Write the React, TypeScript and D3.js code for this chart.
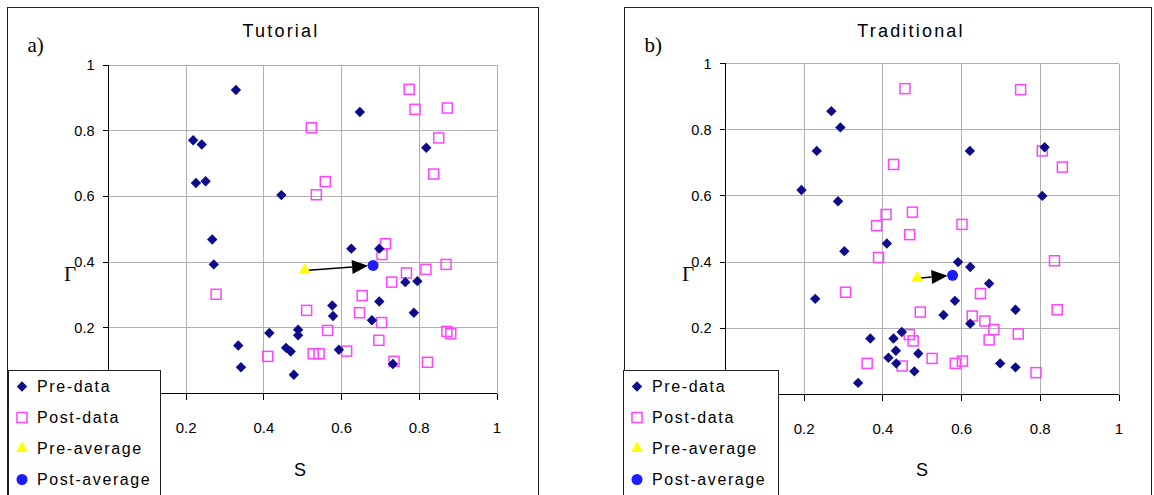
import React from "react";
import * as d3 from "d3";

type Pt = [number, number];

// ---- panel a) Tutorial ----
const tutorialPre: Pt[] = [
  [0.328, 0.924], [0.218, 0.771], [0.240, 0.758], [0.225, 0.641], [0.250, 0.646],
  [0.445, 0.604], [0.647, 0.857], [0.818, 0.748], [0.267, 0.469], [0.271, 0.393],
  [0.625, 0.441], [0.697, 0.441], [0.764, 0.339], [0.795, 0.342], [0.697, 0.280],
  [0.786, 0.246], [0.678, 0.223], [0.414, 0.184], [0.334, 0.146], [0.341, 0.080],
  [0.457, 0.139], [0.469, 0.128], [0.477, 0.057], [0.488, 0.194], [0.488, 0.177],
  [0.576, 0.268], [0.578, 0.236], [0.593, 0.133], [0.732, 0.090],
];
const tutorialPost: Pt[] = [
  [0.522, 0.809], [0.558, 0.645], [0.535, 0.605], [0.774, 0.926], [0.789, 0.865],
  [0.872, 0.869], [0.850, 0.778], [0.837, 0.668], [0.277, 0.302], [0.510, 0.253],
  [0.564, 0.192], [0.410, 0.113], [0.527, 0.121], [0.542, 0.121], [0.613, 0.129],
  [0.713, 0.456], [0.704, 0.423], [0.767, 0.367], [0.817, 0.378], [0.869, 0.393],
  [0.729, 0.339], [0.653, 0.298], [0.646, 0.246], [0.703, 0.216], [0.696, 0.162],
  [0.871, 0.189], [0.881, 0.182], [0.735, 0.098], [0.821, 0.095],
];
const tutorialPreAvg: Pt = [0.505, 0.375];
const tutorialPostAvg: Pt = [0.681, 0.39];

// ---- panel b) Traditional ----
const traditionalPre: Pt[] = [
  [0.269, 0.856], [0.292, 0.807], [0.232, 0.736], [0.193, 0.618], [0.286, 0.584],
  [0.621, 0.736], [0.811, 0.747], [0.805, 0.600], [0.410, 0.456], [0.302, 0.433],
  [0.228, 0.289], [0.591, 0.400], [0.622, 0.385], [0.583, 0.283], [0.554, 0.240],
  [0.368, 0.169], [0.427, 0.169], [0.448, 0.189], [0.433, 0.132], [0.414, 0.111],
  [0.434, 0.094], [0.490, 0.124], [0.480, 0.070], [0.337, 0.035], [0.622, 0.214],
  [0.670, 0.335], [0.737, 0.256], [0.698, 0.094], [0.737, 0.082],
];
const traditionalPost: Pt[] = [
  [0.456, 0.924], [0.427, 0.695], [0.408, 0.544], [0.475, 0.551], [0.384, 0.510],
  [0.601, 0.514], [0.750, 0.921], [0.805, 0.736], [0.856, 0.687], [0.468, 0.483],
  [0.389, 0.414], [0.305, 0.309], [0.495, 0.249], [0.467, 0.181], [0.477, 0.162],
  [0.360, 0.094], [0.449, 0.086], [0.525, 0.109], [0.584, 0.094], [0.602, 0.101],
  [0.836, 0.404], [0.648, 0.305], [0.843, 0.256], [0.627, 0.237], [0.659, 0.222],
  [0.682, 0.196], [0.670, 0.165], [0.744, 0.183], [0.789, 0.066],
];
const traditionalPreAvg: Pt = [0.487, 0.352];
const traditionalPostAvg: Pt = [0.577, 0.36];

const xTicks = [0.2, 0.4, 0.6, 0.8, 1];
const yTicks = [0.2, 0.4, 0.6, 0.8, 1];
const legendLabels = ["Pre-data", "Post-data", "Pre-average", "Post-average"];

const FONT = "Liberation Sans, Arial, sans-serif";
const SERIF = "Liberation Serif, Times New Roman, serif";
const NAVY = "#0b0b8c";
const PINK = "#ff44ff";
const YELLOW = "#ffff00";
const BLUE = "#1c1cff";
const GRID = "#b0b0b0";

const diamondPath = d3.symbol(d3.symbolSquare, 54)()!;
const trianglePath = d3.symbol(d3.symbolTriangle, 62)()!;

function Marker({ kind, x, y }: { kind: number; x: number; y: number }) {
  if (kind === 0)
    return <path d={diamondPath} transform={`translate(${x},${y}) rotate(45)`} fill={NAVY} />;
  if (kind === 1)
    return <rect x={x - 5} y={y - 5} width={10} height={10} fill="none" stroke={PINK} strokeWidth={1.5} />;
  if (kind === 2)
    return <path d={trianglePath} transform={`translate(${x},${y})`} fill={YELLOW} />;
  return <circle cx={x} cy={y} r={5.5} fill={BLUE} />;
}

interface PanelProps {
  frame: [number, number];
  plot: { left: number; right: number; top: number; bottom: number };
  title: string;
  titleX: number;
  tag: string;
  gammaX: number;
  sX: number;
  legendBox: [number, number];
  pre: Pt[];
  post: Pt[];
  preAvg: Pt;
  postAvg: Pt;
}

function Panel(p: PanelProps) {
  const x = d3.scaleLinear().domain([0, 1]).range([p.plot.left, p.plot.right]);
  const y = d3.scaleLinear().domain([0, 1]).range([p.plot.bottom, p.plot.top]);

  // arrow from pre-average to the edge of post-average
  const [ax, ay] = [x(p.preAvg[0]), y(p.preAvg[1])];
  const [bx, by] = [x(p.postAvg[0]), y(p.postAvg[1])];
  const len = Math.hypot(bx - ax, by - ay);
  const ux = (bx - ax) / len;
  const uy = (by - ay) / len;
  const tipX = bx - ux * 5;
  const tipY = by - uy * 5;
  const headL = 16;
  const headW = 7;
  const baseX = tipX - ux * headL;
  const baseY = tipY - uy * headL;
  const head = `M${tipX},${tipY}L${baseX - uy * headW},${baseY + ux * headW}L${baseX + uy * headW},${baseY - ux * headW}Z`;

  const [lx0, lx1] = p.legendBox;

  return (
    <g>
      {/* outer frame */}
      <rect x={p.frame[0]} y={7.5} width={p.frame[1] - p.frame[0]} height={520} fill="white" stroke="#222" strokeWidth={1} />
      <text x={p.titleX} y={37} textAnchor="middle" fontFamily={FONT} fontSize={18} letterSpacing={2.2}>{p.title}</text>
      <text x={p.frame[0] + 20} y={52} fontFamily={SERIF} fontSize={21}>{p.tag}</text>

      {/* grid */}
      {xTicks.map((t) => (
        <line key={"gx" + t} x1={x(t)} x2={x(t)} y1={y(0)} y2={y(1)} stroke={GRID} shapeRendering="crispEdges" />
      ))}
      {yTicks.map((t) => (
        <line key={"gy" + t} x1={x(0)} x2={x(1)} y1={y(t)} y2={y(t)} stroke={GRID} shapeRendering="crispEdges" />
      ))}

      {/* axes */}
      <line x1={x(0)} x2={x(0)} y1={y(0)} y2={y(1)} stroke="#000" shapeRendering="crispEdges" />
      <line x1={x(0)} x2={x(1)} y1={y(0)} y2={y(0)} stroke="#000" shapeRendering="crispEdges" />
      {yTicks.map((t) => (
        <g key={"yt" + t}>
          <line x1={x(0) - 6} x2={x(0)} y1={y(t)} y2={y(t)} stroke="#000" shapeRendering="crispEdges" />
          <text x={x(0) - 14} y={y(t) + 5} textAnchor="end" fontFamily={FONT} fontSize={14.5}>{d3.format("")(t)}</text>
        </g>
      ))}
      {xTicks.map((t) => (
        <g key={"xt" + t}>
          <line x1={x(t)} x2={x(t)} y1={y(0)} y2={y(0) + 6} stroke="#000" shapeRendering="crispEdges" />
          <text x={x(t)} y={y(0) + 39} textAnchor="middle" fontFamily={FONT} fontSize={15}>{d3.format("")(t)}</text>
        </g>
      ))}
      <text x={p.gammaX} y={y(0.4) + 19} textAnchor="middle" fontFamily={SERIF} fontSize={21}>Γ</text>
      <text x={p.sX} y={476} textAnchor="middle" fontFamily={FONT} fontSize={18}>S</text>

      {/* data */}
      {p.post.map((d, i) => <Marker key={"po" + i} kind={1} x={x(d[0])} y={y(d[1])} />)}
      {p.pre.map((d, i) => <Marker key={"pr" + i} kind={0} x={x(d[0])} y={y(d[1])} />)}
      <line x1={ax + 4} y1={ay} x2={baseX} y2={baseY} stroke="#000" strokeWidth={1.5} />
      <path d={head} fill="#000" />
      <Marker kind={2} x={ax} y={ay} />
      <Marker kind={3} x={bx} y={by} />

      {/* legend */}
      <rect x={lx0} y={370.5} width={lx1 - lx0} height={140} fill="white" stroke="#222" strokeWidth={1} />
      {legendLabels.map((lab, i) => {
        const cy = 386.5 + i * 31;
        return (
          <g key={lab}>
            <Marker kind={i} x={lx0 + 13.5} y={cy} />
            <text x={lx0 + 28.5} y={cy + 5.5} fontFamily={FONT} fontSize={16} letterSpacing={1.6}>{lab}</text>
          </g>
        );
      })}
    </g>
  );
}

export default function App() {
  return (
    <svg width={1154} height={495} style={{ position: "absolute", left: 0, top: 0, background: "white" }}>
      <Panel
        frame={[7.5, 538.5]}
        plot={{ left: 108.5, right: 497, top: 65, bottom: 393.5 }}
        title="Tutorial"
        titleX={281}
        tag="a)"
        gammaX={70}
        sX={300}
        legendBox={[8.5, 160.5]}
        pre={tutorialPre}
        post={tutorialPost}
        preAvg={tutorialPreAvg}
        postAvg={tutorialPostAvg}
      />
      <Panel
        frame={[624.5, 1151.5]}
        plot={{ left: 725.5, right: 1119, top: 63.5, bottom: 394.5 }}
        title="Traditional"
        titleX={911}
        tag="b)"
        gammaX={688}
        sX={922}
        legendBox={[623.5, 778.5]}
        pre={traditionalPre}
        post={traditionalPost}
        preAvg={traditionalPreAvg}
        postAvg={traditionalPostAvg}
      />
    </svg>
  );
}
